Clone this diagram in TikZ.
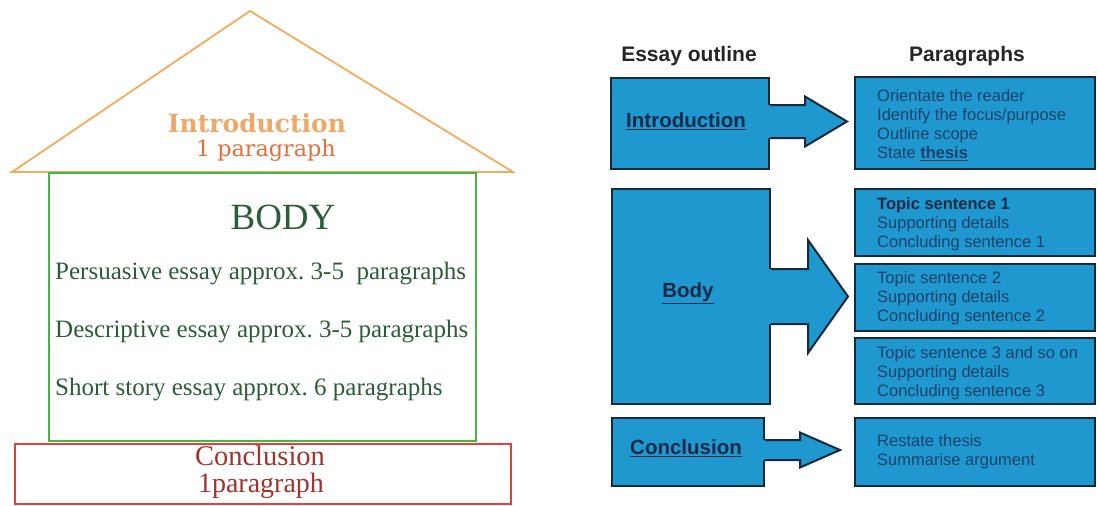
\documentclass[tikz,border=0pt]{standalone}
\usepackage{fontspec}
\setmainfont{Liberation Serif}
\setsansfont{Liberation Sans}
\newfontfamily\slabfont{DejaVu Serif}

\definecolor{roofline}{RGB}{244,172,92}
\definecolor{introtext}{RGB}{240,168,104}
\definecolor{introsub}{RGB}{226,112,62}
\definecolor{bodyline}{RGB}{72,180,72}
\definecolor{bodytext}{RGB}{44,92,58}
\definecolor{conclline}{RGB}{226,62,62}
\definecolor{concltext}{RGB}{160,52,46}
\definecolor{boxblue}{RGB}{30,152,206}
\definecolor{boxedge}{RGB}{24,42,58}
\definecolor{boxtext}{RGB}{24,66,108}
\definecolor{boxlabel}{RGB}{20,42,72}

\frenchspacing
\begin{document}
\begin{tikzpicture}[x=1pt,y=-1pt,
  panel/.style={draw=boxedge, fill=boxblue, line width=2pt, anchor=north west,
    inner sep=0pt, minimum width=#1},
  label/.style={font=\sffamily\bfseries\fontsize{20.5}{22}\selectfont, text=boxlabel, inner sep=0pt},
  header/.style={font=\sffamily\bfseries\fontsize{21}{23}\selectfont, text=black!85, inner sep=0pt},
  lines/.style={font=\sffamily\fontsize{16.5}{19}\selectfont, text=boxtext, align=left,
    anchor=north west, inner sep=0pt},
  bodyitem/.style={font=\fontsize{25}{27}\selectfont, text=bodytext, anchor=west, inner sep=0pt}]

% page frame
\useasboundingbox (0,0) rectangle (1098,506);
\fill[white] (0,0) rectangle (1098,506);

% ---------- house: roof, walls, foundation ----------
\coordinate (roofL) at (12,172);
\coordinate (roofT) at (250,11);
\coordinate (roofR) at (513,172);
\draw[roofline, line width=1.8pt, line join=miter] (roofL) -- (roofT) -- (roofR) -- cycle;

\node[draw=conclline, line width=1.5pt, anchor=north west, inner sep=0pt,
      minimum width=496pt, minimum height=60pt] (found) at (14,443) {};
\node[draw=bodyline, line width=1.8pt, anchor=north west, inner sep=0pt,
      minimum width=427pt, minimum height=268pt] (walls) at (48,172) {};

\node[font=\slabfont\bfseries\fontsize{25}{27}\selectfont, text=introtext, inner sep=0pt]
  (introT) at (257,123) {Introduction};
\node[font=\slabfont\fontsize{22.3}{24}\selectfont, text=introsub, inner sep=0pt]
  (introS) at (266,151) {1 paragraph};

\node[font=\fontsize{37}{40}\selectfont, text=bodytext, inner sep=0pt] (bodyT) at (283,217) {BODY};
\node[bodyitem] (pers) at (55,274) {Persuasive essay approx. 3-5~~paragraphs};
\node[bodyitem] (desc) at (55,332) {Descriptive essay approx. 3-5 paragraphs};
\node[bodyitem] (story) at (55,390) {Short story essay approx. 6 paragraphs};

\node[font=\fontsize{28.5}{30}\selectfont, text=concltext, inner sep=0pt] (conclT) at (260,456) {Conclusion};
\node[font=\fontsize{28}{30}\selectfont, text=concltext, inner sep=0pt] (conclS) at (261,486) {1paragraph};

% ---------- essay outline table ----------
\node[header] (hOut) at (689,56) {Essay outline};
\node[header] (hPar) at (967,56) {Paragraphs};

% left column
\node[panel=158pt, minimum height=91pt] (oIntro) at (610,77) {};
\node[panel=158pt, minimum height=215pt] (oBody) at (611,188) {};
\node[panel=152pt, minimum height=68pt] (oConcl) at (611,417) {};

% right column
\node[panel=240pt, minimum height=92pt] (pIntro) at (854,76) {};
\node[panel=240pt, minimum height=67pt] (pB1) at (854,188) {};
\node[panel=240pt, minimum height=67pt] (pB2) at (854,263) {};
\node[panel=240pt, minimum height=66pt] (pB3) at (854,337) {};
\node[panel=240pt, minimum height=68pt] (pConcl) at (854,417) {};

% block arrows leaving the outline boxes
% #1 box, #2 shaft half-height, #3 head half-height, #4 head base x, #5 tip x, #6 centre y
\newcommand\blockarrow[6]{%
  \fill[boxblue] ([xshift=-2pt]#1.east |- 0,#6-#2) -- (#4,#6-#2) -- (#4,#6-#3) -- (#5,#6)
     -- (#4,#6+#3) -- (#4,#6+#2) -- ([xshift=-2pt]#1.east |- 0,#6+#2) -- cycle;
  \draw[boxedge, line width=2pt, line join=miter]
     (#1.east |- 0,#6-#2) -- (#4,#6-#2) -- (#4,#6-#3) -- (#5,#6)
     -- (#4,#6+#3) -- (#4,#6+#2) -- (#1.east |- 0,#6+#2);}
\blockarrow{oIntro}{16.5}{25}{805}{847}{121.5}
\blockarrow{oBody}{27.5}{56.5}{808}{848}{296.5}
\blockarrow{oConcl}{10}{17.5}{800}{840}{450}

% outline labels
\node[label] (lIntro) at (686,121) {\underline{Introduction}};
\node[label] (lBody) at (688,293) {\underline{Body}};
\node[label] (lConcl) at (686,448) {\underline{Conclusion}};

% paragraph contents
\node[lines] (tIntro) at (877,89) {Orientate the reader\\Identify the focus/purpose\\Outline scope\\State \textbf{\underline{thesis}}};
\node[lines] (tB1) at (877,197) {\textbf{\color{boxlabel}Topic sentence 1}\\Supporting details\\Concluding sentence 1};
\node[lines] (tB2) at (877,271) {Topic sentence 2\\Supporting details\\Concluding sentence 2};
\node[lines] (tB3) at (877,346) {Topic sentence 3 and so on\\Supporting details\\Concluding sentence 3};
\node[lines] (tConcl) at (877,434) {Restate thesis\\Summarise argument};

\end{tikzpicture}
\end{document}
